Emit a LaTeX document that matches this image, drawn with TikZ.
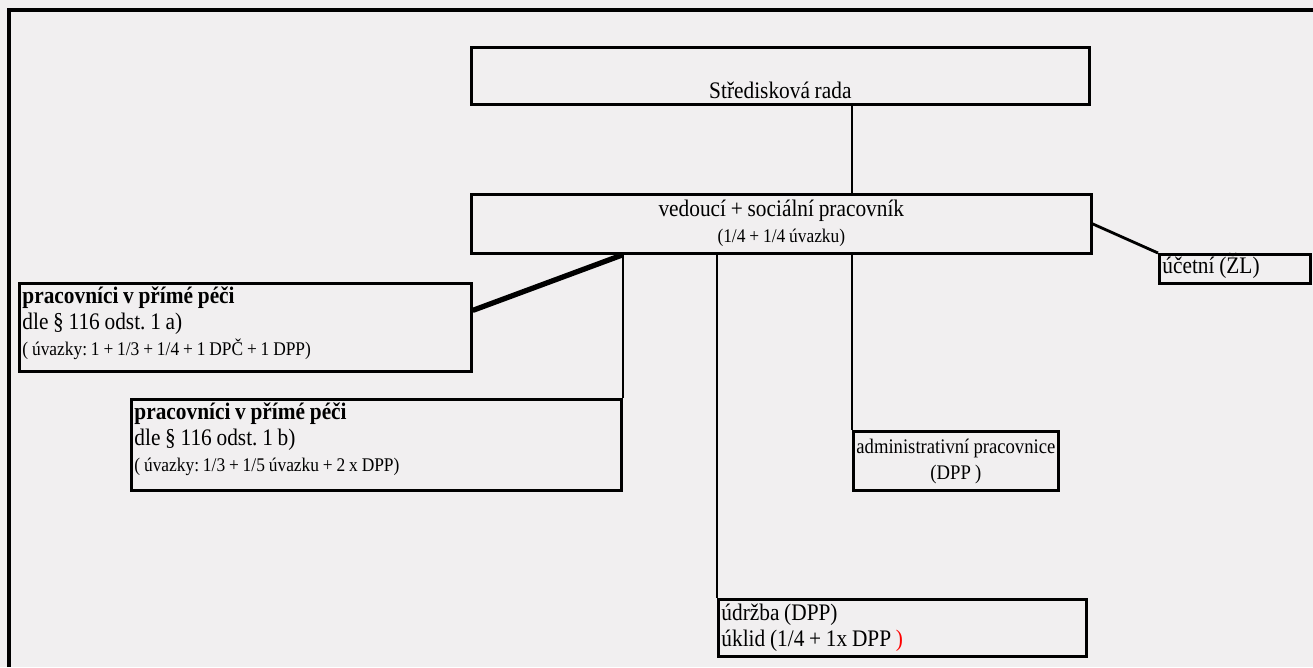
\documentclass[tikz,border=0pt]{standalone}
\usepackage{fontspec}
\setmainfont{Liberation Serif}[FakeStretch=0.9]
\definecolor{paper}{HTML}{F1EFF0}
\newcommand{\mezery}{\frenchspacing\spaceskip=0.2em\relax}
\newcommand{\malytext}{\fontsize{11}{14.8}\selectfont\mezery}
\tikzset{
  orgbox/.style={draw, line width=1.6pt, rectangle, anchor=north west,
    inner xsep=0.06cm, inner ysep=0pt, font=\fontsize{13.5}{14.8}\selectfont,
    execute at begin node=\mezery},
  spoj/.style={line width=1pt},
}

\begin{document}
\begin{tikzpicture}[x=0.02cm, y=-0.02cm]

% paper and frame
\fill[paper] (0,0) rectangle (1313,667);
\useasboundingbox (0,0) rectangle (1313,667);
\draw[line width=2pt] (9,667) -- (9,10) -- (1313,10);

% boxes
\node[orgbox, text width=12.24cm, align=center, text height=1.02cm, text depth=0.12cm] (rada) at (470,46) {Středisková rada};
\node[orgbox, text width=12.28cm, align=center, text height=0.44cm, text depth=0.74cm] (ved) at (470,193)
  {vedoucí + sociální pracovník\\ {\malytext (1/4 + 1/4 úvazku)}};
\node[orgbox, text width=2.9cm, align=left, text height=0.38cm, text depth=0.2cm] (ucetni) at (1158,253) {účetní (ŽL)};
\node[orgbox, text width=8.92cm, align=left, text height=0.4cm, text depth=1.36cm] (pecA) at (18,282)
  {\textbf{pracovníci v přímé péči}\\ dle § 116 odst. 1 a)\\ {\malytext ( úvazky: 1 + 1/3 + 1/4 + 1 DPČ + 1 DPP)}};
\node[orgbox, text width=9.68cm, align=left, text height=0.4cm, text depth=1.42cm] (pecB) at (130,398)
  {\textbf{pracovníci v přímé péči}\\ dle § 116 odst. 1 b)\\ {\malytext ( úvazky: 1/3 + 1/5 úvazku + 2 x DPP)}};
\node[orgbox, text width=4.04cm, inner xsep=0.03cm, align=center, text height=0.44cm, text depth=0.74cm,
  font=\fontsize{11.8}{14.8}\selectfont] (admin) at (852,430)
  {administrativní pracovnice\\ (DPP )};
\node[orgbox, text width=7.24cm, align=left, text height=0.42cm, text depth=0.72cm] (udrzba) at (717,598)
  {údržba (DPP)\\ úklid (1/4 + 1x DPP \textcolor{red}{)}};

% connectors
\draw[line width=1.6pt] (rada.south -| admin.west) -- (ved.north -| admin.west);
\draw[spoj] (ved.south -| admin.west) -- (admin.north west);
\draw[spoj] (ved.south -| udrzba.west) -- (udrzba.north west);
\draw[spoj] (ved.south -| pecB.east) -- (pecB.north east);
\draw[line width=3pt] (ved.south -| pecB.east) -- ([yshift=0.34cm]pecA.east);
\draw[line width=1.6pt] (ved.east) -- (ucetni.north west);

\end{tikzpicture}
\end{document}
